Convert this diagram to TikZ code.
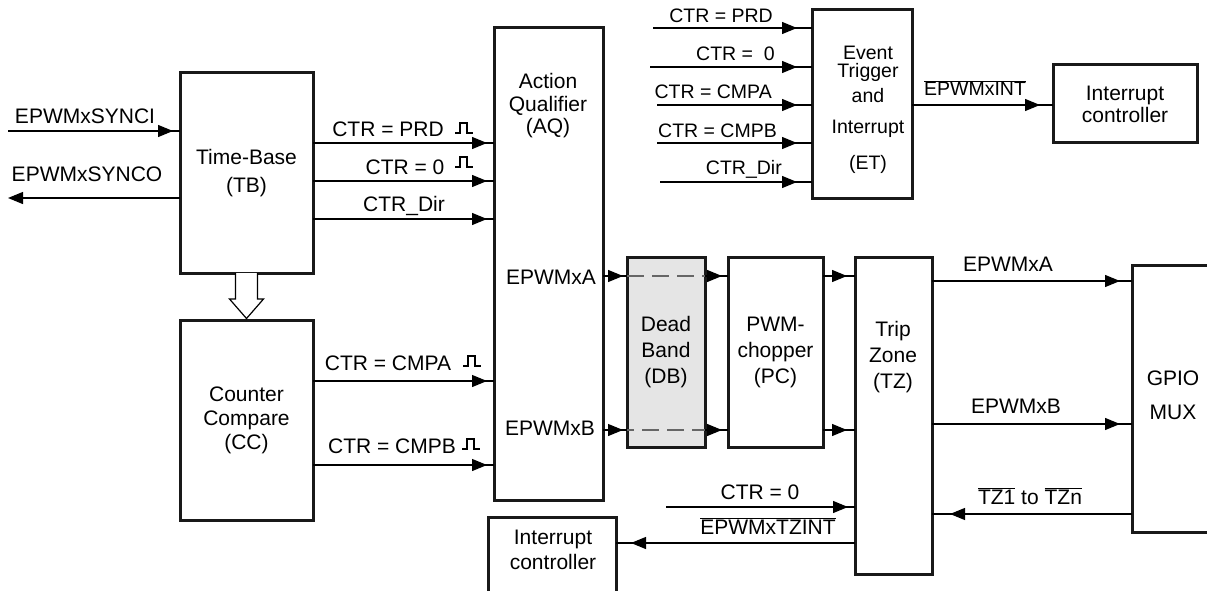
\documentclass[tikz,border=0pt]{standalone}
\usepackage{fontspec}
\setmainfont{Liberation Sans}
\usetikzlibrary{arrows.meta,decorations.markings}
\newcommand\ovl[1]{\ensuremath{\overline{\mbox{#1}}}}
\newcommand\mypulse[2]{\draw[pls] (#1,#2) -- ++(5,0) -- ++(0,-10) -- ++(7,0) -- ++(0,10) -- ++(6,0);}
\begin{document}
\begin{tikzpicture}[x=1pt,y=-1pt,
  font=\fontsize{21}{25}\selectfont,
  blk/.style={draw=black!90, line width=3pt, inner sep=0pt, outer sep=0pt, align=center},
  txt/.style={inner sep=0pt, align=center},
  etf/.style={font=\fontsize{19.5}{23}\selectfont},
  sig/.style={line width=1.2pt},
  ar/.style={sig, postaction={decorate}, decoration={markings, mark=at position -#1 with {\arrow{Triangle[length=15pt,width=12pt]}}}},
  pls/.style={line width=1.2pt},
  dsh/.style={line width=1.2pt, draw=black!60, dash pattern=on 17pt off 8pt},
]
\useasboundingbox (0,0) rectangle (1207,591);
\clip (0,0) rectangle (1207,591);

% blocks
\node[blk, minimum width=133pt, minimum height=200pt, font=\fontsize{21}{28}\selectfont] (TB) at (246.5,173) {Time-Base\\(TB)};
\node[blk, minimum width=133pt, minimum height=200pt, font=\fontsize{21}{24}\selectfont] (CC) at (246.5,420) {Counter\\Compare\\(CC)};
\node[blk, minimum width=109pt, minimum height=472pt] (AQ) at (548.5,264) {};
\node[txt, font=\fontsize{21}{22.5}\selectfont] (AQt) at (548,106) {Action\\Qualifier\\(AQ)};
\node[txt] (AQa) at (551,277) {EPWMxA};
\node[txt] (AQb) at (550,428) {EPWMxB};
\node[blk, fill=black!10, minimum width=78pt, minimum height=190pt, font=\fontsize{21}{26}\selectfont] (DB) at (666,352) {Dead\\Band\\(DB)};
\node[blk, minimum width=95pt, minimum height=190pt, font=\fontsize{21}{26}\selectfont] (PC) at (775.5,352) {PWM-\\chopper\\(PC)};
\node[blk, minimum width=77pt, minimum height=317pt] (TZ) at (893.5,415.5) {};
\node[txt, font=\fontsize{21}{26}\selectfont] (TZt) at (893,357) {Trip\\Zone\\(TZ)};
\node[blk, minimum width=108pt, minimum height=267pt] (GPIO) at (1186,398.5) {};
\node[txt, font=\fontsize{21}{34}\selectfont] (GPIOt) at (1173,395) {GPIO\\MUX};
\node[blk, minimum width=100pt, minimum height=188pt] (ET) at (862,104) {};
\node[txt, font=\fontsize{19.5}{18}\selectfont] (ETt) at (868,110) {Event\\Trigger\\[6pt]and\\[13pt]Interrupt\\[17pt](ET)};
\node[blk, minimum width=144pt, minimum height=78pt, font=\fontsize{21}{22}\selectfont] (IC1) at (1125,104) {Interrupt\\controller};
\node[blk, minimum width=128pt, minimum height=103pt] (IC2) at (552,568.5) {};
\node[txt] (IC2t) at (553,550) {Interrupt\\controller};

% hollow arrow TB -> CC
\draw[line width=1.2pt, fill=white] ([xshift=-11pt]TB.south) -- ++(0,26) -- ++(-6,0) -- ([yshift=1.5pt]CC.north) -- ([xshift=17pt,yshift=-26pt]TB.south) -- ++(-6,0) -- ([xshift=11pt]TB.south);

% coordinates
\coordinate (sI) at (8,131);
\coordinate (sO) at (8,198);
\coordinate (l1) at (0,143);
\coordinate (l2) at (0,181);
\coordinate (l3) at (0,219);
\coordinate (l4) at (0,381);
\coordinate (l5) at (0,465);
\coordinate (la) at (0,276);
\coordinate (lb) at (0,430);
\coordinate (ga) at (0,281);
\coordinate (gb) at (0,424);
\coordinate (gt) at (0,514);
\coordinate (z0) at (666,507);
\coordinate (ti) at (0,543);
\coordinate (e1) at (653,28);
\coordinate (e2) at (650,67);
\coordinate (e3) at (657,105);
\coordinate (e4) at (657,143);
\coordinate (e5) at (660,182);
\coordinate (ei) at (0,105);

% connectors
\draw[ar=7pt] (sI) -- (TB.west |- sI);
\draw[sig,-{Triangle[length=15pt,width=12pt]}] (TB.west |- sO) -- (sO);
\draw[ar=7pt] (TB.east |- l1) -- (AQ.west |- l1);
\draw[ar=7pt] (TB.east |- l2) -- (AQ.west |- l2);
\draw[ar=7pt] (TB.east |- l3) -- (AQ.west |- l3);
\draw[ar=7pt] (CC.east |- l4) -- (AQ.west |- l4);
\draw[ar=7pt] (CC.east |- l5) -- (AQ.west |- l5);
\draw[ar=4pt] (AQ.east |- la) -- (DB.west |- la);
\draw[dsh] (DB.west |- la) -- (DB.east |- la);
\draw[ar=6pt] (DB.east |- la) -- (PC.west |- la);
\draw[ar=8pt] (PC.east |- la) -- (TZ.west |- la);
\draw[ar=4pt] (AQ.east |- lb) -- (DB.west |- lb);
\draw[dsh, dash phase=10pt] (DB.west |- lb) -- (DB.east |- lb);
\draw[ar=6pt] (DB.east |- lb) -- (PC.west |- lb);
\draw[ar=8pt] (PC.east |- lb) -- (TZ.west |- lb);
\draw[ar=12pt] (TZ.east |- ga) -- (GPIO.west |- ga);
\draw[ar=12pt] (TZ.east |- gb) -- (GPIO.west |- gb);
\draw[ar=18pt] (GPIO.west |- gt) -- (TZ.east |- gt);
\draw[ar=7pt] (z0) -- (TZ.west |- z0);
\draw[ar=15pt] (TZ.west |- ti) -- (IC2.east |- ti);
\foreach \e in {e1,e2,e3,e4,e5}{
  \draw[ar=15pt] (\e) -- (ET.west |- \e);
}
\draw[ar=13pt] (ET.east |- ei) -- (IC1.west |- ei);

% labels
\node[txt] (lsI) at (85,116) {EPWMxSYNCI};
\node[txt] (lsO) at (87,174) {EPWMxSYNCO};
\node[txt] (lPRD) at (388,129) {CTR = PRD};
\node[txt] (lZ) at (405,167) {CTR = 0};
\node[txt] (lDir) at (404,206) {CTR\_Dir};
\node[txt] (lA) at (388,363) {CTR = CMPA};
\node[txt] (lB) at (392,446) {CTR = CMPB};
\mypulse{455}{133}
\mypulse{455}{167}
\mypulse{463}{366}
\mypulse{462}{449}
\node[txt] (lgA) at (1008,264) {EPWMxA};
\node[txt] (lgB) at (1016,406) {EPWMxB};
\node[txt] (lTZn) at (1030,496) {\ovl{TZ1} to \ovl{TZn}};
\node[txt] (lZ2) at (760,492) {CTR = 0};
\node[txt] (lTZI) at (768,526) {\ovl{EPWMxTZINT}};
\node[txt, etf, anchor=east] (le1) at (773,16) {CTR = PRD};
\node[txt, etf, anchor=east] (le2) at (775,54) {CTR =\ \ 0};
\node[txt, etf, anchor=east] (le3) at (772,92) {CTR = CMPA};
\node[txt, etf, anchor=east] (le4) at (777,131) {CTR = CMPB};
\node[txt, etf, anchor=east] (le5) at (782,169) {CTR\_Dir};
\node[txt, etf] (lINT) at (975,88) {\ovl{EPWMxINT}};
\end{tikzpicture}
\end{document}
